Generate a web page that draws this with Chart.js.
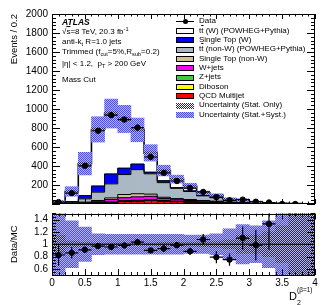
<!DOCTYPE html>
<html lang="en">
<head>
<meta charset="UTF-8" />
<title>D2 (beta=1) distribution</title>
<script src="https://cdn.jsdelivr.net/npm/chart.js"></script>
<style>
  body { margin: 0; background: #fff; font-family: "Liberation Sans", Arial, sans-serif; }
  #wrap { position: relative; width: 332px; height: 305px; overflow: hidden; background: #fff; }
  canvas { position: absolute; left: 0; }
  #top { top: 0; }
  #bottom { top: 195px; }
  .t { position: absolute; white-space: nowrap; line-height: 1; color: #000; font-size: 8px; }
  .sub, .sup { position: relative; font-size: 70%; }
  .sub { top: 2px; }
  .sup { top: -3px; }
  .ov { text-decoration: overline; }
  .sw { position: absolute; box-sizing: border-box; }
</style>
</head>
<body>
<div id="wrap">
  <canvas id="top" width="332" height="214"></canvas>
  <canvas id="bottom" width="332" height="110"></canvas>

  <div class="t" style="left:62px;top:17.5px;font-size:8.5px;font-weight:bold;font-style:italic;">ATLAS</div>
  <div class="t" style="left:62px;top:28px;">√<span class="ov">s</span>=8 TeV, 20.3 fb<span class="sup">-1</span></div>
  <div class="t" style="left:62px;top:38px;">anti-k<span class="sub">t</span> R=1.0 jets</div>
  <div class="t" style="left:62px;top:48px;">Trimmed (f<span class="sub">cut</span>=5%,R<span class="sub">sub</span>=0.2)</div>
  <div class="t" style="left:62px;top:60px;">|η| &lt; 1.2,&nbsp; p<span class="sub">T</span> &gt; 200 GeV</div>
  <div class="t" style="left:62px;top:76px;">Mass Cut</div>

  <div class="t" style="left:289px;top:291px;font-size:11px;">D</div>
  <div class="t" style="left:297px;top:299px;font-size:7px;">2</div>
  <div class="t" style="left:297px;top:287px;font-size:6.5px;">(β=1)</div>

  <div id="legend"></div>
</div>

<script>
// bins of D2 (width 0.2)
const binCenters = [0.1, 0.3, 0.5, 0.7, 0.9, 1.1, 1.3, 1.5, 1.7, 1.9, 2.1, 2.3, 2.5, 2.7, 2.9, 3.1, 3.3, 3.5, 3.7, 3.9];
const binHalf = 0.1;

// MC components, stacked bottom-up
const qcd     = [2, 2, 5, 10, 14, 27, 30, 37, 30, 25, 20, 15, 12, 8, 6, 4, 2, 1, 0.5, 0.3];
const diboson = [0, 0, 1, 2, 3, 4, 4, 4, 3, 2, 2, 1.5, 1, 0.7, 0.5, 0.3, 0.2, 0.1, 0, 0];
const zjets   = [0, 0, 1, 2, 4, 5, 5, 5, 3, 2, 2, 1.5, 1, 0.8, 0.5, 0.3, 0.2, 0.1, 0, 0];
const wjets   = [2, 2, 5, 10, 26, 30, 36, 35, 21, 16, 13, 12, 10, 5.5, 4, 2.4, 1.6, 0.8, 0.5, 0.2];
const stNonW  = [2, 4, 8, 13, 17, 34, 33, 23, 14, 12, 10, 7, 6, 5, 4, 2, 1, 1, 1, 0.5];
const ttNonW  = [6, 10, 34, 88, 148, 210, 254, 214, 154, 108, 85, 49, 36, 24, 20, 11, 5, 2, 1, 0.5];
const stW     = [6, 7, 34, 64, 104, 67, 58, 17, 20, 7, 6, 5, 5, 3, 3, 1, 1, 1, 0.5, 0.3];
const ttW     = [6, 107, 337, 596, 636, 518, 360, 203, 107, 90, 52, 27, 21, 5, 4, 3, 1, 1, 0.5, 0.2];

// data
const dataVals = [20, 115, 402, 771, 935, 889, 805, 495, 328, 242, 168, 127, 72, 39, 46, 24, 16, 0, 0, null];
const dataErr  = [5, 11, 20, 28, 31, 30, 28, 22, 18, 16, 13, 11, 9, 6, 7, 5, 4, 2, 2, null];

// ratio panel
const ratioVals = [0.825, 0.86, 0.91, 0.97, 0.955, 0.98, 1.035, 0.90, 0.93, 0.985, 0.885, 1.077, 0.79, 0.75, 1.10, 0.985, 1.33, null, null, null];
const ratioErr  = [0.175, 0.09, 0.05, 0.03, 0.03, 0.03, 0.035, 0.04, 0.05, 0.05, 0.06, 0.09, 0.1, 0.1, 0.19, 0.25, 0.42, null, null, null];
const relSyst   = [0.5, 0.38, 0.28, 0.17, 0.16, 0.16, 0.16, 0.16, 0.16, 0.16, 0.15, 0.15, 0.17, 0.25, 0.32, 0.3, 0.38, 0.6, 0.6, 0.6];
const relStat   = [0.15, 0.05, 0.03, 0.02, 0.02, 0.02, 0.02, 0.02, 0.03, 0.03, 0.03, 0.04, 0.05, 0.07, 0.15, 0.15, 0.2, 0.3, 0.6, 0.6];

// ticks
const yTicksTop   = [200, 400, 600, 800, 1000, 1200, 1400, 1600, 1800, 2000];
const yTicksRatio = [0.6, 0.8, 1, 1.2, 1.4];
const yLabelsRatio = ['0.6', '0.8', '1', '1.2', '1.4'];
const xTicks  = [0, 0.5, 1, 1.5, 2, 2.5, 3, 3.5, 4];
const xLabels = ['0', '0.5', '1', '1.5', '2', '2.5', '3', '3.5', '4'];

const components = [
  { label: 'QCD Multijet', values: qcd, color: '#ff0000' },
  { label: 'Diboson', values: diboson, color: '#ffff00' },
  { label: 'Z+jets', values: zjets, color: '#3fcc3f' },
  { label: 'W+jets', values: wjets, color: '#ff00ff' },
  { label: 'Single Top (non-W)', values: stNonW, color: '#cfc38e' },
  { label: 'tt (non-W) (POWHEG+Pythia)', values: ttNonW, color: '#a9b8c2' },
  { label: 'Single Top (W)', values: stW, color: '#0000ff' },
  { label: 'tt (W) (POWHEG+Pythia)', values: ttW, color: '#ffffff' }
];

Chart.defaults.font.family = '"Liberation Sans", Arial, sans-serif';
Chart.defaults.color = '#000';

function checker(ctx, dot, back) {
  const c = document.createElement('canvas');
  c.width = 2; c.height = 2;
  const g = c.getContext('2d');
  if (back) { g.fillStyle = back; g.fillRect(0, 0, 2, 2); }
  g.fillStyle = dot;
  g.fillRect(0, 0, 1, 1);
  g.fillRect(1, 1, 1, 1);
  return ctx.createPattern(c, 'repeat');
}

// ROOT-like frame with inward ticks on all four sides
const rootFrame = {
  id: 'rootFrame',
  afterDraw(chart, args, o) {
    const { ctx, chartArea: a } = chart;
    const xs = chart.scales.x, ys = chart.scales.y;
    ctx.save();
    ctx.strokeStyle = '#000';
    ctx.lineWidth = 1;
    ctx.strokeRect(Math.round(a.left) + 0.5, Math.round(a.top) + 0.5, Math.round(a.right - a.left) - 1, Math.round(a.bottom - a.top) - 1);
    ctx.beginPath();
    const n1 = Math.round((xs.max - xs.min) / o.xMinor);
    for (let i = 0; i <= n1; i++) {
      const v = xs.min + i * o.xMinor;
      const major = Math.abs(v / o.xMajor - Math.round(v / o.xMajor)) < 1e-6;
      const len = major ? o.xLen : o.xLen / 2;
      const px = Math.round(xs.getPixelForValue(v)) + 0.5;
      ctx.moveTo(px, a.bottom); ctx.lineTo(px, a.bottom - len);
      ctx.moveTo(px, a.top); ctx.lineTo(px, a.top + len);
    }
    const start = Math.ceil(ys.min / o.yMinor - 1e-6) * o.yMinor;
    for (let v = start; v <= ys.max + 1e-6; v += o.yMinor) {
      const major = Math.abs(v / o.yMajor - Math.round(v / o.yMajor)) < 1e-6;
      const len = major ? o.yLen : o.yLen / 2;
      const py = Math.round(ys.getPixelForValue(v)) + 0.5;
      ctx.moveTo(a.left, py); ctx.lineTo(a.left + len, py);
      ctx.moveTo(a.right, py); ctx.lineTo(a.right - len, py);
    }
    ctx.stroke();
    ctx.restore();
  }
};

// error bars for point datasets carrying errX / errY
const errorBars = {
  id: 'errorBars',
  afterDatasetsDraw(chart) {
    const { ctx, chartArea: a } = chart;
    ctx.save();
    ctx.beginPath();
    ctx.rect(a.left, a.top, a.right - a.left, a.bottom - a.top);
    ctx.clip();
    ctx.strokeStyle = '#000';
    ctx.lineWidth = 1.2;
    chart.data.datasets.forEach(ds => {
      if (!ds.errY) return;
      const xs = chart.scales[ds.xAxisID || 'x'];
      const ys = chart.scales[ds.yAxisID || 'y'];
      ds.data.forEach((p, i) => {
        if (p.y === null) return;
        const px = xs.getPixelForValue(p.x);
        const py = ys.getPixelForValue(p.y);
        ctx.beginPath();
        ctx.moveTo(xs.getPixelForValue(p.x - ds.errX), py);
        ctx.lineTo(xs.getPixelForValue(p.x + ds.errX), py);
        ctx.moveTo(px, ys.getPixelForValue(p.y - ds.errY[i]));
        ctx.lineTo(px, ys.getPixelForValue(p.y + ds.errY[i]));
        ctx.stroke();
      });
    });
    ctx.restore();
  }
};

// white pad margin of the lower pad hides part of the "200" label
const padCover = {
  id: 'padCover',
  beforeDraw(chart) {
    const { ctx, chartArea: a } = chart;
    ctx.save();
    ctx.fillStyle = '#fff';
    ctx.fillRect(0, 0, a.left - 2, a.top);
    ctx.restore();
  }
};

// ---------- upper pad ----------
const topCtx = document.getElementById('top').getContext('2d');
const systFillTop = checker(topCtx, '#4b4bff', '#b3b3ff');
const statFillTop = checker(topCtx, '#2a2a40');

const total = binCenters.map((c, i) => components.reduce((s, comp) => s + comp.values[i], 0));

const topDatasets = [];
topDatasets.push({
  type: 'scatter', label: 'Data', order: 0, yAxisID: 'y2',
  data: binCenters.map((c, i) => ({ x: c, y: dataVals[i] })),
  pointRadius: 2.7, pointBackgroundColor: '#000', pointBorderColor: '#000',
  errX: binHalf, errY: dataErr
});
topDatasets.push({
  type: 'bar', label: 'Uncertainty (Stat. Only)', order: 1, yAxisID: 'y2', grouped: false,
  data: binCenters.map((c, i) => ({ x: c, y: [total[i] * (1 - relStat[i]), total[i] * (1 + relStat[i])] })),
  backgroundColor: statFillTop, borderWidth: 0, barPercentage: 1, categoryPercentage: 1
});
topDatasets.push({
  type: 'bar', label: 'Uncertainty (Stat.+Syst.)', order: 2, yAxisID: 'y2', grouped: false,
  data: binCenters.map((c, i) => ({ x: c, y: [total[i] * (1 - relSyst[i]), total[i] * (1 + relSyst[i])] })),
  backgroundColor: systFillTop, borderWidth: 0, barPercentage: 1, categoryPercentage: 1
});

// outline of every stack level (step drawn at the bin edges)
const cum = binCenters.map(() => 0);
components.forEach((comp, k) => {
  comp.values.forEach((v, i) => { cum[i] += v; });
  const pts = binCenters.map((c, i) => ({ x: c - binHalf, y: cum[i] }));
  pts.push({ x: binCenters[binCenters.length - 1] + binHalf, y: cum[cum.length - 1] });
  topDatasets.push({
    type: 'line', label: comp.label + ' outline', order: 3, yAxisID: 'y2',
    data: pts, stepped: 'before', pointRadius: 0, fill: false,
    borderColor: '#000', borderWidth: k === components.length - 1 ? 1.6 : 1
  });
});

components.forEach(comp => {
  topDatasets.push({
    type: 'bar', label: comp.label, order: 4, yAxisID: 'y', grouped: false,
    data: binCenters.map((c, i) => ({ x: c, y: comp.values[i] })),
    backgroundColor: comp.color, borderWidth: 0, barPercentage: 1, categoryPercentage: 1
  });
});

new Chart(topCtx, {
  type: 'bar',
  data: { datasets: topDatasets },
  options: {
    responsive: false,
    animation: false,
    layout: { padding: { top: 14, bottom: 1, left: 0, right: 17 } },
    plugins: {
      legend: { display: false },
      tooltip: { enabled: false },
      rootFrame: { xMajor: 0.5, xMinor: 0.1, xLen: 5, yMajor: 200, yMinor: 40, yLen: 8 }
    },
    scales: {
      x: {
        type: 'linear', min: 0, max: 4, offset: false, display: false,
        afterBuildTicks: s => { s.ticks = xTicks.map(v => ({ value: v })); }
      },
      y: {
        min: 0, max: 2000, stacked: true,
        grid: { display: false, drawTicks: false },
        border: { display: false },
        afterBuildTicks: s => { s.ticks = yTicksTop.map(v => ({ value: v })); },
        afterFit: s => { s.width = 52; },
        ticks: { font: { size: 10 }, padding: 4, callback: v => String(v) },
        title: { display: true, text: 'Events / 0.2', align: 'end', font: { size: 9.5 }, padding: { top: 9 } }
      },
      y2: { min: 0, max: 2000, display: false }
    }
  },
  plugins: [rootFrame, errorBars]
});

// ---------- ratio pad ----------
const botCtx = document.getElementById('bottom').getContext('2d');
const systFillBot = checker(botCtx, '#4b4bff', '#b3b3ff');
const statFillBot = checker(botCtx, '#2a2a40');

new Chart(botCtx, {
  type: 'bar',
  data: {
    datasets: [
      {
        type: 'scatter', label: 'Data/MC', order: 0,
        data: binCenters.map((c, i) => ({ x: c, y: ratioVals[i] })),
        pointRadius: 2.7, pointBackgroundColor: '#000', pointBorderColor: '#000',
        errX: binHalf, errY: ratioErr
      },
      {
        type: 'line', label: 'unity', order: 1,
        data: [{ x: 0, y: 1 }, { x: 4, y: 1 }],
        borderColor: '#000', borderWidth: 1, pointRadius: 0, fill: false
      },
      {
        type: 'bar', label: 'Stat. only', order: 2, grouped: false,
        data: binCenters.map((c, i) => ({ x: c, y: [1 - relStat[i], 1 + relStat[i]] })),
        backgroundColor: statFillBot, borderWidth: 0, barPercentage: 1, categoryPercentage: 1
      },
      {
        type: 'bar', label: 'Stat.+Syst.', order: 3, grouped: false,
        data: binCenters.map((c, i) => ({ x: c, y: [1 - relSyst[i], 1 + relSyst[i]] })),
        backgroundColor: systFillBot, borderWidth: 0, barPercentage: 1, categoryPercentage: 1
      }
    ]
  },
  options: {
    responsive: false,
    animation: false,
    layout: { padding: { top: 18.5, bottom: 0, left: 0, right: 17 } },
    plugins: {
      legend: { display: false },
      tooltip: { enabled: false },
      rootFrame: { xMajor: 0.5, xMinor: 0.1, xLen: 6, yMajor: 0.2, yMinor: 0.05, yLen: 8 }
    },
    scales: {
      x: {
        type: 'linear', min: 0, max: 4, offset: false,
        grid: { display: false, drawTicks: false },
        border: { display: false },
        afterBuildTicks: s => { s.ticks = xTicks.map(v => ({ value: v })); },
        afterFit: s => { s.height = 30; },
        ticks: { font: { size: 10 }, padding: 2, maxRotation: 0, autoSkip: false, callback: (v, i) => xLabels[i] }
      },
      y: {
        min: 0.5, max: 1.5,
        grid: { display: false, drawTicks: false },
        border: { display: false },
        afterBuildTicks: s => { s.ticks = yTicksRatio.map(v => ({ value: v })); },
        afterFit: s => { s.width = 52; },
        ticks: { font: { size: 10 }, padding: 4, callback: (v, i) => yLabelsRatio[i] },
        title: { display: true, text: 'Data/MC', font: { size: 9.5 }, padding: { top: 9 } }
      }
    }
  },
  plugins: [padCover, rootFrame, errorBars]
});

// ---------- legend ----------
const legendItems = [
  { html: 'Data', kind: 'data' },
  { html: 't<span class="ov">t</span> (W) (POWHEG+Pythia)', kind: 'box', color: '#ffffff' },
  { html: 'Single Top (W)', kind: 'box', color: '#0000ff' },
  { html: 't<span class="ov">t</span> (non-W) (POWHEG+Pythia)', kind: 'box', color: '#a9b8c2' },
  { html: 'Single Top (non-W)', kind: 'box', color: '#cfc38e' },
  { html: 'W+jets', kind: 'box', color: '#ff00ff' },
  { html: 'Z+jets', kind: 'box', color: '#3fcc3f' },
  { html: 'Diboson', kind: 'box', color: '#ffff00' },
  { html: 'QCD Multijet', kind: 'box', color: '#ff0000' },
  { html: 'Uncertainty (Stat. Only)', kind: 'pattern', dot: '#2a2a40', back: '#ffffff' },
  { html: 'Uncertainty (Stat.+Syst.)', kind: 'pattern', dot: '#4b4bff', back: '#b3b3ff' }
];
const legend = document.getElementById('legend');
legendItems.forEach((it, i) => {
  const cy = 21.7 + 9.33 * i;
  const t = document.createElement('div');
  t.className = 't';
  t.style.left = '199px';
  t.style.top = (cy - 4.3) + 'px';
  t.innerHTML = it.html;
  legend.appendChild(t);
  if (it.kind === 'data') {
    const l = document.createElement('div');
    l.className = 'sw';
    l.style.cssText = 'left:176px;width:18px;height:1.5px;background:#000;top:' + (cy - 0.75) + 'px';
    legend.appendChild(l);
    const d = document.createElement('div');
    d.className = 'sw';
    d.style.cssText = 'left:182.5px;width:5.5px;height:5.5px;border-radius:50%;background:#000;top:' + (cy - 2.75) + 'px';
    legend.appendChild(d);
  } else if (it.kind === 'box') {
    const b = document.createElement('div');
    b.className = 'sw';
    b.style.cssText = 'left:176px;width:18px;height:6px;border:1px solid #000;top:' + (cy - 3) + 'px';
    b.style.background = it.color;
    legend.appendChild(b);
  } else {
    // patterned swatch drawn with the same 2x2 checker as the bands
    const c = document.createElement('canvas');
    c.width = 18; c.height = 6;
    c.style.cssText = 'position:absolute;left:176px;top:' + (cy - 3) + 'px';
    const g = c.getContext('2d');
    g.fillStyle = checker(g, it.dot, it.back);
    g.fillRect(0, 0, 18, 6);
    legend.appendChild(c);
  }
});
</script>
</body>
</html>
